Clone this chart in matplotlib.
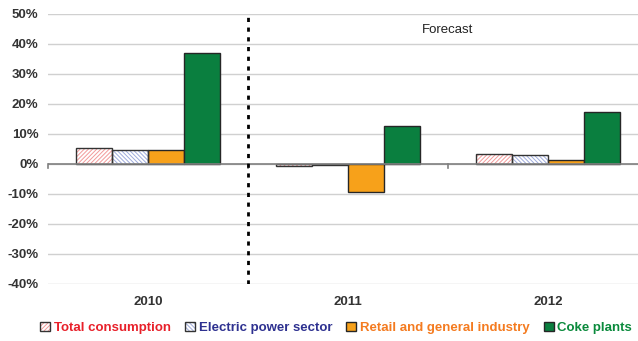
import numpy as np
import matplotlib.pyplot as plt
from matplotlib.patches import Patch

years = ['2010', '2011', '2012']
series = ['Total consumption', 'Electric power sector', 'Retail and general industry', 'Coke plants']
total = [5.1, -0.8, 3.2]
electric = [4.6, -0.5, 3.0]
retail = [4.5, -9.5, 1.2]
coke = [37.0, 12.4, 17.2]

values = [total, electric, retail, coke]
face = ['white', 'white', '#F7A11A', '#0A7F3F']
hatch_col = ['#F29A9A', '#9EABDC', None, None]
hatches = ['////////', '\\\\\\\\\\\\\\\\', None, None]
text_col = ['#E8202A', '#2E3190', '#F47B20', '#0A8A3C']

plt.rcParams['font.family'] = 'Liberation Sans'
plt.rcParams['hatch.linewidth'] = 0.7

fig = plt.figure(figsize=(6.38, 3.41), dpi=100)
# axes runs a little past the right edge, like the original
ax = fig.add_axes([48/638, 1-283.5/341, 600/638, 270/341])

x = np.arange(len(years))
w = 0.18
for i, vals in enumerate(values):
    pos = x + (i - 1.5) * w
    if hatches[i]:
        ax.bar(pos, vals, w, color='white', hatch=hatches[i], edgecolor=hatch_col[i], linewidth=0, zorder=3)
        ax.bar(pos, vals, w, color='none', edgecolor='#333333', linewidth=1, zorder=4)
    else:
        ax.bar(pos, vals, w, color=face[i], edgecolor='#262626', linewidth=1, zorder=3)

ax.set_xlim(-0.5, 2.5)
ax.set_ylim(-40, 50)
ax.set_yticks(np.arange(-40, 51, 10))
ax.set_yticklabels([f'{v}%' for v in range(-40, 51, 10)], fontweight='bold', fontsize=9.5, color='#333333')
ax.yaxis.grid(True, color='#D0D0D0', linewidth=1, zorder=0)
ax.axhline(0, color='#808080', linewidth=1.2, zorder=5)
ax.tick_params(axis='y', length=0, pad=7)
ax.set_xticks(x)
ax.set_xticklabels(years, fontweight='bold', fontsize=9.5, color='#333333')
ax.tick_params(axis='x', length=0, pad=9)
for s in ax.spines.values():
    s.set_visible(False)

# category separator ticks on the zero line
for b in [-0.5, 0.5, 1.5]:
    ax.plot([b, b], [0, -1.5], color='#808080', linewidth=1.2, zorder=5, clip_on=False)

ax.axvline(0.5, color='black', linestyle=(0, (1.5, 2)), linewidth=2, zorder=6)
ax.text(1.5, 44.5, 'Forecast', ha='center', va='center', fontsize=9.5, color='#222222')

handles = []
for i in range(4):
    if hatches[i]:
        handles.append((Patch(facecolor='white', edgecolor=hatch_col[i], hatch=hatches[i], linewidth=0),
                        Patch(facecolor='none', edgecolor='#333333')))
    else:
        handles.append(Patch(facecolor=face[i], edgecolor='#262626'))
leg = fig.legend(handles, series, loc='center', bbox_to_anchor=(0.527, 0.038), ncol=4, frameon=False,
                 handlelength=0.75, handleheight=0.75, handletextpad=0.3, columnspacing=1.05,
                 prop={'weight': 'bold', 'size': 9.5}, labelcolor=text_col)

fig.savefig('out.png', dpi=100)
